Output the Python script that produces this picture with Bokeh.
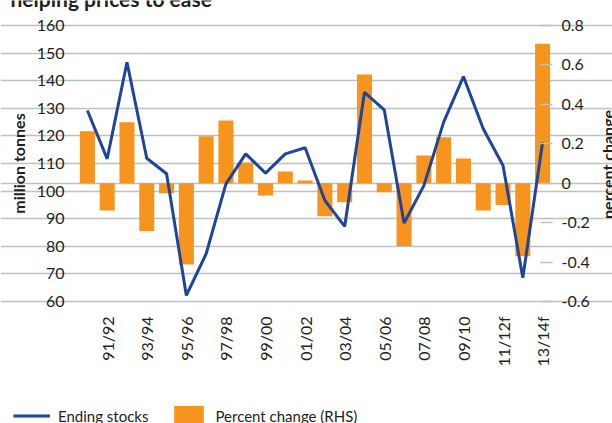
import math
from bokeh.plotting import figure
from bokeh.models import (Range1d, LinearAxis, FixedTicker, Grid, Label, Legend,
                          LegendItem, ColumnDataSource, NumeralTickFormatter)
from bokeh.embed import file_html
from bokeh.resources import INLINE

# ---------------- data ----------------
seasons = ["90/91", "91/92", "92/93", "93/94", "94/95", "95/96", "96/97", "97/98",
           "98/99", "99/00", "00/01", "01/02", "02/03", "03/04", "04/05", "05/06",
           "06/07", "07/08", "08/09", "09/10", "10/11", "11/12f", "12/13f", "13/14f"]
ending_stocks = [129.2, 111.7, 146.7, 111.9, 106.3, 62.2, 77.3, 102.6, 113.5, 106.5,
                 113.5, 115.7, 96.6, 87.2, 135.8, 129.4, 88.4, 102.0, 125.0, 141.5,
                 122.6, 109.3, 68.6, 117.7]
pct_change = [0.264, -0.138, 0.309, -0.243, -0.051, -0.412, 0.238, 0.318, 0.105, -0.062,
              0.059, 0.014, -0.167, -0.096, 0.551, -0.046, -0.319, 0.140, 0.233, 0.125,
              -0.138, -0.110, -0.370, 0.707]
left_ticks = [60, 70, 80, 90, 100, 110, 120, 130, 140, 150, 160]
right_ticks = [-0.6, -0.4, -0.2, 0, 0.2, 0.4, 0.6, 0.8]
shown_labels = seasons[1::2]

title_text = "helping prices to ease"
left_title = "million tonnes"
right_title = "percent change"
line_name = "Ending stocks"
bar_name = "Percent change (RHS)"

# ---------------- style / layout ----------------
ORANGE = "#F7941D"
BLUE = "#1F449C"
GRID = "#B8C4BF"
TEXT = "#231F20"
FONT = "Lato"

W, H = 612, 423
PL, PR, PT, PB = 77, 552, 25, 301      # plotting area in pixels

n = len(seasons)
x_pos = list(range(n))
label_ticks = [i for i in x_pos if seasons[i] in shown_labels]

cw = (PR - PL) / n
x_lo, x_hi = -0.5, n - 0.5
y_lo, y_hi = left_ticks[0], left_ticks[-1]
r_lo, r_hi = right_ticks[0], right_ticks[-1]
ys = (PB - PT) / (y_hi - y_lo)
rs = (PB - PT) / (r_hi - r_lo)

src = ColumnDataSource(dict(x=x_pos, season=seasons, stocks=ending_stocks, pct=pct_change))

p = figure(width=W, height=H,
           x_range=Range1d(x_lo - PL / cw, x_hi + (W - PR) / cw),
           y_range=Range1d(y_lo - (H - PB) / ys, y_hi + PT / ys),
           output_backend="svg", toolbar_location=None,
           min_border_left=0, min_border_right=0, min_border_top=0, min_border_bottom=0)
p.outline_line_color = None
p.background_fill_color = "white"
p.border_fill_color = "white"
p.extra_y_ranges = {"right": Range1d(r_lo - (H - PB) / rs, r_hi + PT / rs)}

# grid
p.xgrid.visible = False
p.ygrid.ticker = FixedTicker(ticks=left_ticks)
p.ygrid.bounds = (x_lo, x_hi)
p.ygrid.grid_line_color = GRID
p.ygrid.grid_line_width = 1.5

zero_grid = Grid(dimension=1, y_range_name="right", ticker=FixedTicker(ticks=[0]),
                 bounds=(x_lo, x_hi), grid_line_color=GRID, grid_line_width=1.5)
p.add_layout(zero_grid)

bars = p.vbar(x="x", top="pct", bottom=0, width=0.76, source=src,
              y_range_name="right", fill_color=ORANGE, line_color=None)
line = p.line(x="x", y="stocks", source=src, line_color=BLUE, line_width=3)

# left axis
ya = p.yaxis[0]
ya.fixed_location = x_lo
ya.bounds = (y_lo, y_hi)
ya.ticker = FixedTicker(ticks=left_ticks)
ya.axis_line_color = None
ya.major_tick_line_color = None
ya.minor_tick_line_color = None
ya.major_label_standoff = 7
ya.major_label_text_font = FONT
ya.major_label_text_font_size = "16px"
ya.major_label_text_color = TEXT
ya.axis_label = left_title
ya.axis_label_text_font = FONT
ya.axis_label_text_font_style = "bold"
ya.axis_label_text_font_size = "16px"
ya.axis_label_text_color = TEXT
ya.axis_label_standoff = 6

# right axis
ra = LinearAxis(y_range_name="right", ticker=FixedTicker(ticks=right_ticks),
                formatter=NumeralTickFormatter(format="0.[0]"),
                fixed_location=x_hi, bounds=(r_lo, r_hi))
ra.axis_line_color = None
ra.major_tick_in = 12
ra.major_tick_out = 0
ra.major_tick_line_color = GRID
ra.major_tick_line_width = 1.5
ra.minor_tick_line_color = None
ra.major_label_standoff = 9
ra.major_label_text_font = FONT
ra.major_label_text_font_size = "16px"
ra.major_label_text_color = TEXT
p.add_layout(ra, "right")

# x axis
xa = p.xaxis[0]
xa.fixed_location = y_lo
xa.bounds = (x_lo, x_hi)
xa.ticker = FixedTicker(ticks=label_ticks)
xa.major_label_overrides = {i: seasons[i] for i in label_ticks}
xa.axis_line_color = None
xa.major_tick_line_color = None
xa.minor_tick_line_color = None
xa.major_label_orientation = math.pi / 2
xa.major_label_standoff = 9
xa.major_label_text_font = FONT
xa.major_label_text_font_size = "16px"
xa.major_label_text_color = TEXT

# right axis title
p.add_layout(Label(x=607, y=H - 164, x_units="screen", y_units="screen", text=right_title,
                   angle=math.pi / 2, text_align="center", text_baseline="alphabetic",
                   text_font=FONT, text_font_style="bold", text_font_size="16px",
                   text_color=TEXT))
# title (partly cut off at the top)
p.add_layout(Label(x=10, y=H + 2, x_units="screen", y_units="screen", text=title_text,
                   text_align="left", text_baseline="alphabetic",
                   text_font=FONT, text_font_style="bold", text_font_size="21px",
                   text_color=TEXT))

# legend
leg = Legend(items=[LegendItem(label=line_name, renderers=[line]),
                    LegendItem(label=bar_name, renderers=[bars])],
             location=(13, H - 403 - 25), orientation="horizontal", glyph_width=37,
             glyph_height=25, label_standoff=8, spacing=22, padding=0, margin=0,
             border_line_color=None, background_fill_alpha=0,
             label_text_font=FONT, label_text_font_size="15px", label_text_color=TEXT)
p.add_layout(leg)

open("out.html", "w").write(file_html(p, INLINE))
